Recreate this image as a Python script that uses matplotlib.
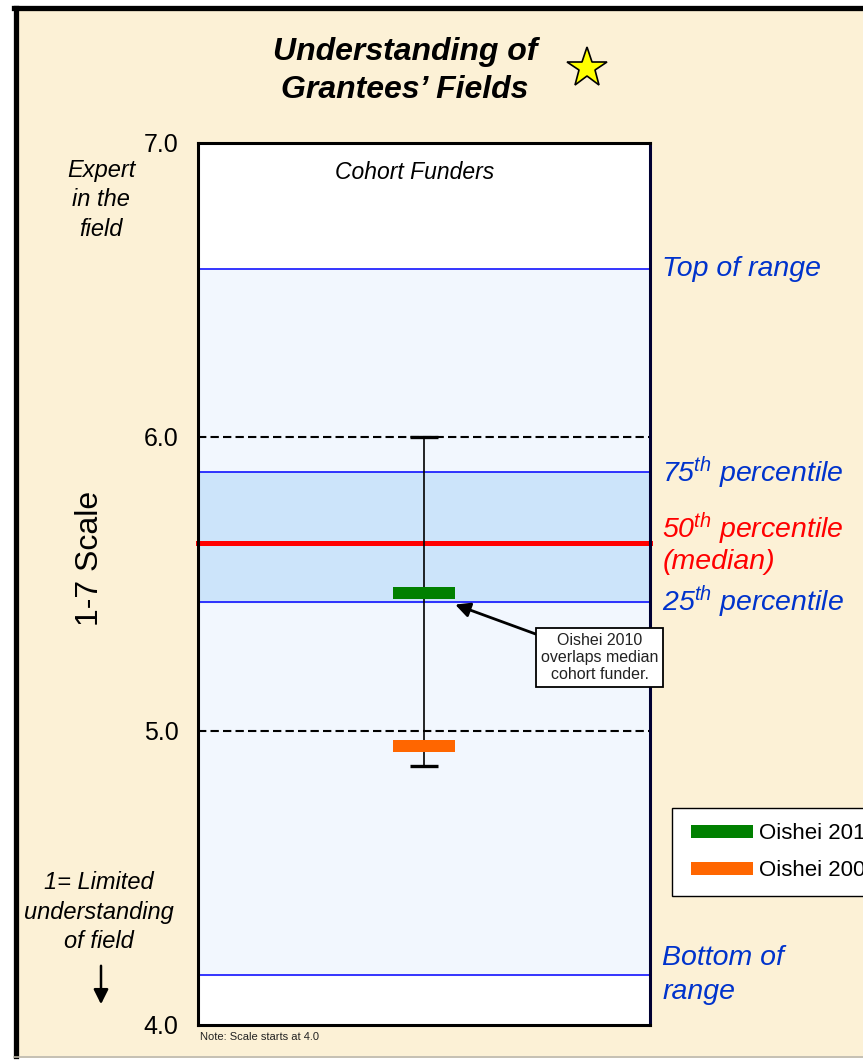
import matplotlib
matplotlib.use("Agg")
import matplotlib.pyplot as plt
from matplotlib.patches import Rectangle, Patch, FancyArrowPatch
from matplotlib.lines import Line2D
from matplotlib.legend_handler import HandlerPatch
from matplotlib.transforms import blended_transform_factory

plt.rcParams['font.family'] = ['Liberation Sans', 'DejaVu Sans']
plt.rcParams['mathtext.fontset'] = 'custom'
plt.rcParams['mathtext.it'] = 'Liberation Sans:italic'
plt.rcParams['mathtext.rm'] = 'Liberation Sans'

# scale values
ticks = [4.0, 5.0, 6.0, 7.0]
tick_labels = ['4.0', '5.0', '6.0', '7.0']
dashed_levels = [5.0, 6.0]
range_bottom = 4.17
range_top = 6.57
p25 = 5.44
p50 = 5.64
p75 = 5.88
whisker_low = 4.88
whisker_high = 6.00
oishei_labels = ['Oishei 2010', 'Oishei 2007']
oishei_scores = [5.47, 4.95]
oishei_colors = ['#008000', '#FF6600']

cream = '#FCF1D6'
blue_txt = '#0033CC'

W, H = 863, 1060
fig = plt.figure(figsize=(W / 100, H / 100), dpi=100)
fig.patch.set_facecolor('white')

# cream panel with the frame
fig.add_artist(Rectangle((15 / W, 1 - 1056 / H), 1.0, (1056 - 8) / H,
                         transform=fig.transFigure, facecolor=cream,
                         edgecolor='none', zorder=-10))
fig.add_artist(Line2D([15.5 / W, 15.5 / W], [1 - 1056 / H, 1 - 7.5 / H],
                      transform=fig.transFigure, color='black', lw=3.8))
fig.add_artist(Line2D([14 / W, 1.0], [1 - 7.5 / H, 1 - 7.5 / H],
                      transform=fig.transFigure, color='black', lw=3.8))
fig.add_artist(Line2D([14 / W, 1.0], [1 - 1056.5 / H, 1 - 1056.5 / H],
                      transform=fig.transFigure, color='#BBB5A5', lw=1.2))

ax = fig.add_axes([198 / W, 1 - 1025 / H, (650 - 198) / W, (1025 - 143) / H])
ax.set_facecolor('white')
ax.set_xlim(0, 1)
ax.set_ylim(ticks[0], ticks[-1])

# shaded bands
ax.axhspan(range_bottom, range_top, color='#F2F7FE', zorder=0)
ax.axhspan(p25, p75, color='#CCE4FA', zorder=0.5)

for lev in [range_bottom, range_top, p25, p75]:
    ax.axhline(lev, color='#0000FF', lw=1.1, zorder=1)
for lev in dashed_levels:
    ax.axhline(lev, color='black', lw=1.5, dashes=(4, 2), zorder=1.5)
ax.axhline(p50, color='#FF0000', lw=3.6, zorder=2, clip_on=False)

# whisker
ax.vlines(0.5, whisker_low, whisker_high, color='black', lw=1.2, zorder=3)
ax.hlines([whisker_low, whisker_high], 0.469, 0.531, color='black', lw=2.4, zorder=3)

# Oishei markers
for sc, col in zip(oishei_scores, oishei_colors):
    ax.barh(sc, 0.138, height=0.04, left=0.431, color=col, zorder=4)

ax.set_xticks([])
ax.set_yticks(ticks)
ax.set_yticklabels(tick_labels, fontsize=18)
ax.tick_params(axis='y', length=0, pad=14)
for side in ['left', 'bottom', 'top']:
    ax.spines[side].set_linewidth(2.2)
ax.spines['right'].set_linewidth(2.2)
ax.spines['right'].set_color('#000033')

ax.text(0.48, 6.9, 'Cohort Funders', fontsize=16.5, style='italic',
        ha='center', va='center')

# labels right of the axes
tr = blended_transform_factory(ax.transAxes, ax.transData)
lx = 1.027
ax.text(lx, range_top, 'Top of range', transform=tr, color=blue_txt,
        fontsize=20.5, style='italic', va='center', clip_on=False)
ax.text(lx, p75, r'75$^{th}$ percentile', transform=tr, color=blue_txt,
        fontsize=20.5, style='italic', va='center', clip_on=False)
ax.text(lx, p50, '50$^{th}$ percentile\n(median)', transform=tr, color='#FF0000',
        fontsize=20.5, style='italic', va='center', linespacing=1.1, clip_on=False)
ax.text(lx, p25, r'25$^{th}$ percentile', transform=tr, color=blue_txt,
        fontsize=20.5, style='italic', va='center', clip_on=False)
ax.text(lx, range_bottom, 'Bottom of\nrange', transform=tr, color=blue_txt,
        fontsize=20.5, style='italic', va='center', linespacing=1.4, clip_on=False)

# callout
ax.annotate('Oishei 2010\noverlaps median\ncohort funder.',
            xy=(0.569, 5.43), xytext=(0.889, 5.25),
            fontsize=11.5, ha='center', va='center', color='#222222',
            bbox=dict(boxstyle='square,pad=0.3', fc='white', ec='black', lw=1.3),
            arrowprops=dict(arrowstyle='-|>', color='black', lw=2,
                            mutation_scale=22, shrinkA=0, shrinkB=0),
            annotation_clip=False, zorder=6)

# title and star
fig.text(405 / W, 1 - 71 / H, 'Understanding of\nGrantees\u2019 Fields',
         fontsize=23, weight='bold', style='italic', ha='center', va='center',
         linespacing=1.35)
fig.add_artist(Line2D([587 / W], [1 - 68 / H], transform=fig.transFigure,
                      marker='*', markersize=30, markerfacecolor='#FFFF00',
                      markeredgecolor='black', markeredgewidth=1.2))

# left side texts
fig.text(90 / W, 1 - 558 / H, '1-7 Scale', fontsize=23, rotation=90,
         ha='center', va='center')
fig.text(101 / W, 1 - 200 / H, 'Expert\nin the\nfield', fontsize=17,
         style='italic', ha='center', va='center', linespacing=1.35)
fig.text(99 / W, 1 - 912 / H, '1= Limited\nunderstanding\nof field',
         fontsize=17, style='italic', ha='center', va='center', linespacing=1.38)
fig.add_artist(FancyArrowPatch(
    (101 / W, 1 - 963 / H), (101 / W, 1 - 1007 / H), transform=fig.transFigure,
    arrowstyle='-|>', mutation_scale=22, color='black', lw=1.8))
fig.text(200 / W, 1 - 1037 / H, 'Note: Scale starts at 4.0', fontsize=8,
         ha='left', va='center', color='#222222')


# legend swatch drawn with a small left inset inside the handle box
def inset_patch(legend, orig_handle, xdescent, ydescent, width, height, fontsize):
    return Rectangle((-xdescent + 3, -ydescent), width - 3, height)


handles = [Patch(facecolor=c, edgecolor='none') for c in oishei_colors]
fig.legend(handles, oishei_labels, loc='upper left',
           bbox_to_anchor=(672 / W, 1 - 808 / H), borderaxespad=0,
           fontsize=16, handlelength=2.95, handleheight=0.55,
           labelspacing=0.72, borderpad=0.68, handletextpad=0.27,
           fancybox=False, framealpha=1, edgecolor='black',
           facecolor='white',
           handler_map={Patch: HandlerPatch(patch_func=inset_patch)})

fig.savefig('out.png', dpi=100)
